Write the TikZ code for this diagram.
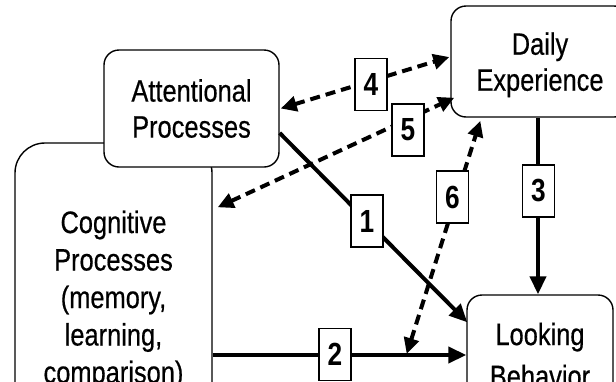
\documentclass[tikz,border=0pt]{standalone}
\usepackage{fontspec}
\setmainfont{Liberation Sans}[FakeStretch=0.82,UprightFeatures={FakeBold=0.5}]
\usetikzlibrary{arrows.meta,calc}
\begin{document}
\begin{tikzpicture}[x=1pt,y=-1pt,
  box/.style={draw,line width=1.4pt,rounded corners=15pt,fill=white,align=center,inner sep=0pt,
    font=\fontsize{31}{36}\selectfont},
  numbox/.style={draw,line width=1.3pt,fill=white,minimum width=32pt,minimum height=52pt,inner sep=0pt,
    font=\fontsize{32}{32}\selectfont\bfseries},
  solidarrow/.style={line width=4pt,-{Triangle[length=18pt,width=16pt]}},
  dasharrow/.style={line width=4pt,dash pattern=on 10pt off 6pt,
    {Triangle[length=16pt,width=15pt]}-{Triangle[length=16pt,width=15pt]}}]
\useasboundingbox (0,0) rectangle (616,381);
\clip (0,0) rectangle (616,381);
% boxes
\node[box,rounded corners=30pt,minimum width=197pt,minimum height=314pt,
  font=\fontsize{31}{37.5}\selectfont] (cog) at (113.5,300)
  {Cognitive\\Processes\\(memory,\\learning,\\comparison)};
\node[box,minimum width=175pt,minimum height=117pt] (att) at (191.5,108.5) {Attentional\\Processes};
\node[box,minimum width=178pt,minimum height=111pt,text depth=0pt] (day) at (540,61.5) {Daily\\Experience};
\node[box,minimum width=146pt,minimum height=120pt,font=\fontsize{31}{42}\selectfont] (look) at (540,355) {Looking\\Behavior};
% helper coordinates
\coordinate (c2) at ($(cog.east)+(0,55)$);
\coordinate (l2) at ($(look.west)+(0,0)$);
\path (c2) -- (l2) coordinate[pos=0.765] (m6);
% connectors
\draw[solidarrow] ($(att.east)+(0,24.5)$) -- ($(look.north west)+(1,28)$);
\draw[solidarrow] (c2) -- (l2);
\draw[solidarrow] ($(day.south)+(-2,0)$) -- ($(look.north)+(-2,0)$);
\draw[dasharrow] ($(att.east)+(1,0)$) -- ($(day.west)+(-1,-4.5)$);
\draw[dasharrow] ($(cog.north east)+(5,65)$) -- ($(day.south west)+(4,-20)$);
\draw[dasharrow] ($(m6)+(0,-1)$) -- ($(day.south west)+(30,3)$);
% labels
\node[numbox] (n1) at (367,221) {1};
\node[numbox] (n2) at (335,354.5) {2};
\node[numbox] (n3) at (538.5,191) {3};
\node[numbox] (n4) at (371,84.5) {4};
\node[numbox] (n5) at (408,130) {5};
\node[numbox] (n6) at (452.5,197) {6};
\end{tikzpicture}
\end{document}
